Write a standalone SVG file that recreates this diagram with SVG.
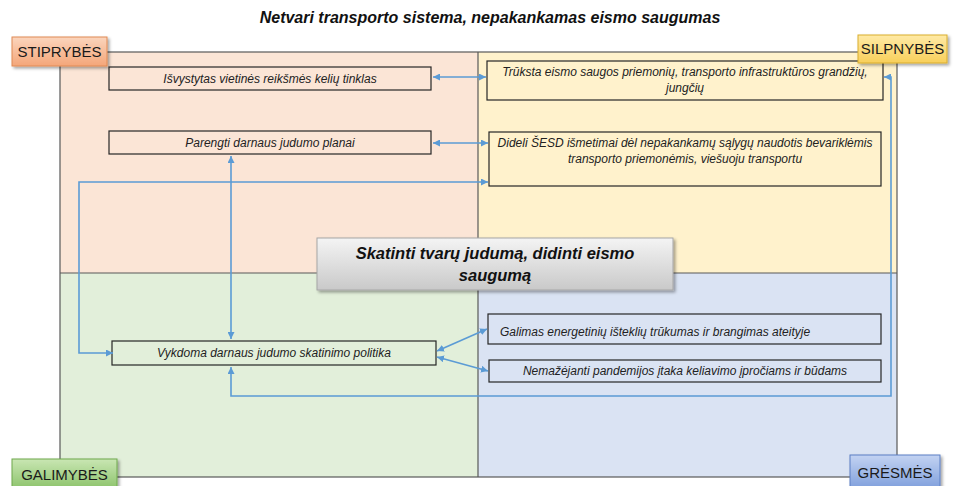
<svg xmlns="http://www.w3.org/2000/svg" width="953" height="486" viewBox="0 0 953 486">
<defs>
<style>
.title{font-family:"Liberation Sans",Arial,sans-serif;font-weight:bold;font-style:italic;font-size:16px;fill:#111}
.bt{font-family:"Liberation Sans",Arial,sans-serif;font-style:italic;font-size:12px;fill:#222}
.ct{font-family:"Liberation Sans",Arial,sans-serif;font-weight:bold;font-style:italic;font-size:16.5px;fill:#111}
.lab{font-family:"Liberation Sans",Arial,sans-serif;font-size:15px;fill:#1a1a1a}
.box{stroke:#262626;stroke-width:1.2}
.q{stroke:#595959;stroke-width:1.2}
.con{fill:none;stroke:#5b9bd5;stroke-width:1.6}
</style>
<marker id="ar" markerUnits="userSpaceOnUse" markerWidth="8" markerHeight="7" refX="7" refY="3.5" orient="auto-start-reverse">
<path d="M0,0 L7,3.5 L0,7 z" fill="#5b9bd5"/>
</marker>
<linearGradient id="gOr" x1="0" y1="0" x2="0" y2="1"><stop offset="0" stop-color="#fbd5bd"/><stop offset="1" stop-color="#f4a679"/></linearGradient>
<linearGradient id="gYe" x1="0" y1="0" x2="0" y2="1"><stop offset="0" stop-color="#ffeaa6"/><stop offset="1" stop-color="#f8cf5a"/></linearGradient>
<linearGradient id="gGr" x1="0" y1="0" x2="0" y2="1"><stop offset="0" stop-color="#c9e6b3"/><stop offset="1" stop-color="#8cc36b"/></linearGradient>
<linearGradient id="gBl" x1="0" y1="0" x2="0" y2="1"><stop offset="0" stop-color="#c3d3f2"/><stop offset="1" stop-color="#7f9fdc"/></linearGradient>
<linearGradient id="gGy" x1="0" y1="0" x2="0" y2="1"><stop offset="0" stop-color="#f4f4f4"/><stop offset="1" stop-color="#c9c9c9"/></linearGradient>
<filter id="sh" x="-10%" y="-20%" width="130%" height="160%"><feDropShadow dx="2" dy="2" stdDeviation="1.5" flood-color="#000" flood-opacity="0.35"/></filter>
</defs>
<rect width="953" height="486" fill="#fff"/>
<text class="title" x="490" y="23" text-anchor="middle">Netvari transporto sistema, nepakankamas eismo saugumas</text>

<g id="quadrants">
<rect x="60" y="52" width="418" height="221" fill="#fbe5d6"/>
<rect x="478" y="52" width="419" height="221" fill="#fff2cc"/>
<rect x="60" y="273" width="418" height="204" fill="#e2efda"/>
<rect x="478" y="273" width="419" height="204" fill="#dae3f3"/>
<rect class="q" x="60" y="52" width="837" height="425" fill="none"/>
<line class="q" x1="478" y1="52" x2="478" y2="477"/>
<line class="q" x1="60" y1="273" x2="897" y2="273"/>
</g>

<g id="node-s1"><rect class="box" x="109" y="67" width="322" height="23" fill="#fbe5d6"/><text class="bt" x="270" y="83" text-anchor="middle">Išvystytas vietinės reikšmės kelių tinklas</text></g>
<g id="node-s2"><rect class="box" x="109" y="131" width="322" height="23" fill="#fbe5d6"/><text class="bt" x="270" y="147" text-anchor="middle">Parengti darnaus judumo planai</text></g>
<g id="node-w1"><rect class="box" x="487" y="61" width="396" height="39" fill="#fff2cc"/><text class="bt" x="685" y="76" text-anchor="middle">Trūksta eismo saugos priemonių, transporto infrastruktūros grandžių,</text><text class="bt" x="685" y="92" text-anchor="middle">jungčių</text></g>
<g id="node-w2"><rect class="box" x="489" y="132" width="392" height="54" fill="#fff2cc"/><text class="bt" x="685" y="147" text-anchor="middle">Dideli ŠESD išmetimai dėl nepakankamų sąlygų naudotis bevariklėmis</text><text class="bt" x="685" y="163" text-anchor="middle">transporto priemonėmis, viešuoju transportu</text></g>
<g id="node-o1"><rect class="box" x="112" y="341" width="324" height="24" fill="#e2efda"/><text class="bt" x="274" y="357" text-anchor="middle">Vykdoma darnaus judumo skatinimo politika</text></g>
<g id="node-t1"><rect class="box" x="488" y="314" width="393" height="30" fill="#dae3f3"/><text class="bt" x="500" y="336">Galimas energetinių  išteklių trūkumas ir brangimas ateityje</text></g>
<g id="node-t2"><rect class="box" x="489" y="360" width="392" height="22" fill="#dae3f3"/><text class="bt" x="685" y="375" text-anchor="middle">Nemažėjanti pandemijos įtaka keliavimo įpročiams ir būdams</text></g>

<g id="connectors">
<path class="con" d="M433,77 L486,77" marker-start="url(#ar)" marker-end="url(#ar)"/>
<path class="con" d="M884,77 L891,77 L891,396 L231,396 L231,367" marker-start="url(#ar)" marker-end="url(#ar)"/>
<path class="con" d="M433,143 L488,143" marker-start="url(#ar)" marker-end="url(#ar)"/>
<path class="con" d="M231,156 L231,339" marker-start="url(#ar)" marker-end="url(#ar)"/>
<path class="con" d="M113,353 L79,353 L79,182 L488,182" marker-start="url(#ar)" marker-end="url(#ar)"/>
<path class="con" d="M437,351 L487,329" marker-start="url(#ar)" marker-end="url(#ar)"/>
<path class="con" d="M437,357 L488,371" marker-start="url(#ar)" marker-end="url(#ar)"/>
</g>

<g id="node-center"><rect x="317" y="238" width="356" height="52" fill="url(#gGy)" stroke="#a6a6a6" stroke-width="1" filter="url(#sh)"/><text class="ct" x="495" y="259" text-anchor="middle">Skatinti tvarų judumą, didinti eismo</text><text class="ct" x="495" y="281" text-anchor="middle">saugumą</text></g>

<g id="label-s"><rect x="12" y="37" width="95" height="29" fill="url(#gOr)" stroke="#e08a55" stroke-width="1" filter="url(#sh)"/><text class="lab" x="59.5" y="57" text-anchor="middle">STIPRYBĖS</text></g>
<g id="label-w"><rect x="858" y="35" width="89" height="28" fill="url(#gYe)" stroke="#d9ad2f" stroke-width="1" filter="url(#sh)"/><text class="lab" x="902.5" y="54" text-anchor="middle">SILPNYBĖS</text></g>
<g id="label-o"><rect x="12" y="459" width="105" height="30" fill="url(#gGr)" stroke="#6ea84c" stroke-width="1" filter="url(#sh)"/><text class="lab" x="64.5" y="480" text-anchor="middle">GALIMYBĖS</text></g>
<g id="label-t"><rect x="850" y="455" width="90" height="34" fill="url(#gBl)" stroke="#5b7fc4" stroke-width="1" filter="url(#sh)"/><text class="lab" x="895" y="478" text-anchor="middle">GRĖSMĖS</text></g>
</svg>
